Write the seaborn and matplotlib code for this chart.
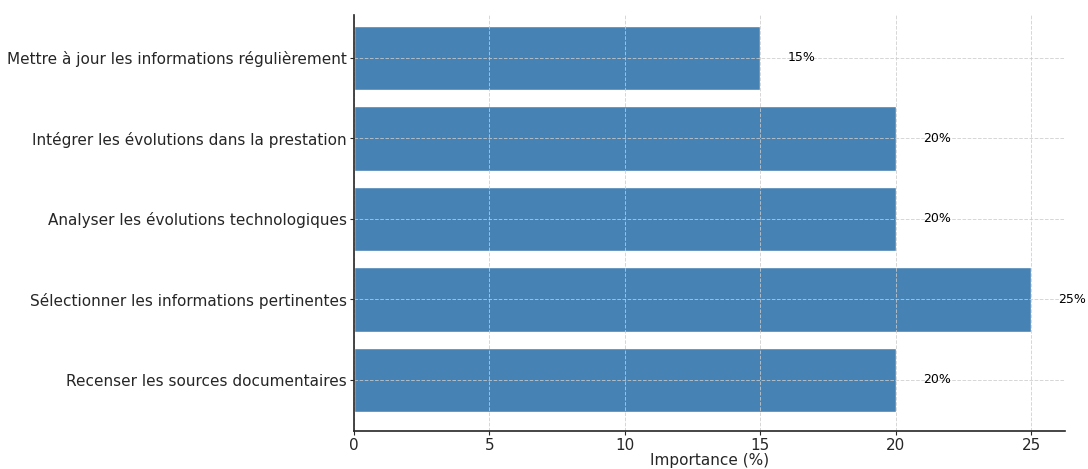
import matplotlib
matplotlib.use("Agg")
import matplotlib.pyplot as plt
import seaborn as sns
import pandas as pd

tasks = [
    "Mettre à jour les informations régulièrement",
    "Intégrer les évolutions dans la prestation",
    "Analyser les évolutions technologiques",
    "Sélectionner les informations pertinentes",
    "Recenser les sources documentaires",
]
importance = [15, 20, 20, 25, 20]

df = pd.DataFrame({"Tâche": tasks, "Importance": importance})

sns.set_style("white")
plt.rcParams["font.family"] = ["DejaVu Sans"]

fig = plt.figure(figsize=(10.88, 4.69), dpi=100)
ax = fig.add_axes([354 / 1088, 1 - 431 / 469, (1065 - 354) / 1088, (431 - 15) / 469])

sns.barplot(data=df, x="Importance", y="Tâche", order=tasks, color="steelblue",
            saturation=1, width=0.8, ax=ax)

ax.set_xlim(0, 26.25)
ax.set_ylim(4.634, -0.534)

for i, v in enumerate(importance):
    ax.text(v + 1, i, f"{v}%", va="center", ha="left", fontsize=9, color="black")

ax.set_xlabel("Importance (%)", fontsize=11, color="#262626", labelpad=0)
ax.set_ylabel("")
ax.tick_params(axis="both", labelsize=11, colors="#262626", length=3, left=True, bottom=True)
ax.tick_params(axis="y", pad=2)
ax.tick_params(axis="x", pad=2)
ax.set_xticks([0, 5, 10, 15, 20, 25])

ax.set_axisbelow(False)
ax.grid(True, linestyle="--", color="#cccccc", linewidth=0.7, alpha=0.8)
sns.despine(ax=ax)
for s in ("left", "bottom"):
    ax.spines[s].set_color("#262626")
    ax.spines[s].set_linewidth(1.2)
    ax.spines[s].set_zorder(5)

fig.savefig("out.png", dpi=100)
